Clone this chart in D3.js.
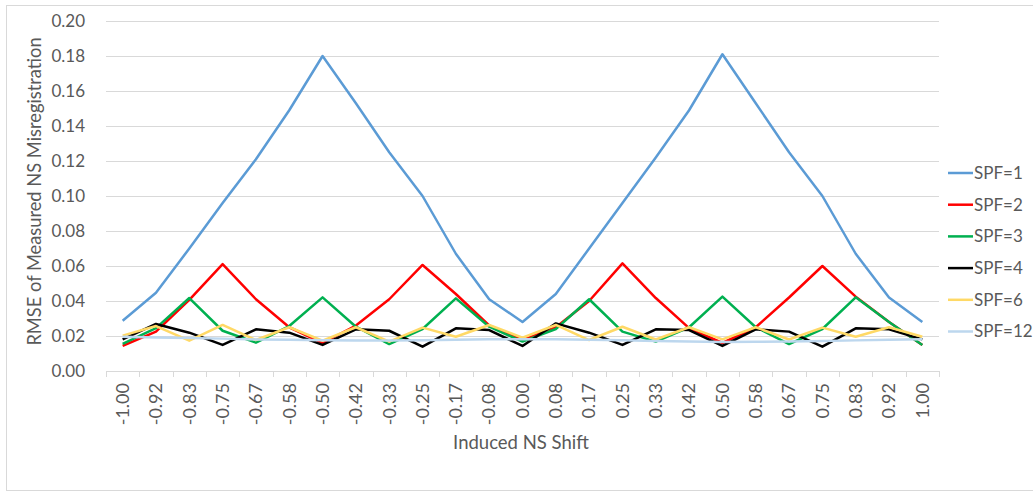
<!DOCTYPE html>
<html>
<head>
<meta charset="utf-8">
<script src="https://cdn.jsdelivr.net/npm/d3@7"></script>
<style>
  html, body { margin: 0; padding: 0; background: #fff; }
  svg { display: block; font-family: Lato, "Open Sans", sans-serif; }
</style>
</head>
<body>
<svg id="chart" width="1033" height="497"></svg>
<script>
// Induced NS shift categories (x axis)
const shifts = ["-1.00","-0.92","-0.83","-0.75","-0.67","-0.58","-0.50","-0.42","-0.33","-0.25","-0.17","-0.08","0.00",
                "0.08","0.17","0.25","0.33","0.42","0.50","0.58","0.67","0.75","0.83","0.92","1.00"];

// RMSE per samples-per-frame setting
const spf1  = [0.0287,0.0447,0.070,0.096,0.121,0.149,0.180,0.153,0.125,0.100,0.067,0.041,0.028,
               0.044,0.070,0.096,0.122,0.149,0.181,0.153,0.125,0.100,0.067,0.042,0.028];
const spf2  = [0.0143,0.0225,0.0406,0.0611,0.041,0.025,0.016,0.026,0.041,0.0606,0.044,0.026,0.0177,
               0.025,0.040,0.0615,0.0417,0.0245,0.016,0.025,0.042,0.060,0.0425,0.028,0.0149];
const spf3  = [0.0155,0.0245,0.0417,0.023,0.0162,0.0257,0.0421,0.0253,0.0154,0.024,0.0415,0.0253,0.0168,
               0.024,0.041,0.0225,0.0168,0.025,0.0425,0.025,0.0154,0.024,0.0421,0.028,0.0149];
const spf4  = [0.0181,0.0269,0.0219,0.0149,0.0238,0.0219,0.0149,0.0238,0.023,0.0139,0.0244,0.0234,0.0143,
               0.0272,0.0219,0.0149,0.0238,0.0234,0.0143,0.0238,0.0225,0.0139,0.0244,0.0238,0.0181];
const spf6  = [0.0202,0.0257,0.0173,0.0263,0.0177,0.025,0.0173,0.025,0.0168,0.0248,0.0196,0.0263,0.019,
               0.0263,0.0177,0.0253,0.018,0.025,0.0181,0.025,0.018,0.0248,0.0196,0.025,0.0196];
const spf12 = [0.0196,0.0192,0.0188,0.0185,0.018,0.0178,0.0176,0.0174,0.0174,0.0176,0.0179,0.0181,0.0182,
               0.0181,0.0179,0.0176,0.0172,0.0168,0.0166,0.0167,0.0169,0.0172,0.0175,0.0178,0.0182];

const seriesNames  = ["SPF=1","SPF=2","SPF=3","SPF=4","SPF=6","SPF=12"];
const seriesValues = [spf1, spf2, spf3, spf4, spf6, spf12];
const seriesColors = ["#5B9BD5","#FF0000","#00B050","#000000","#FFD966","#BDD7EE"];

const yTicks = [0,0.02,0.04,0.06,0.08,0.10,0.12,0.14,0.16,0.18,0.20];

const svg = d3.select("#chart");
const textColor = "#595959";
const gridColor = "#D9D9D9";

// outer chart frame
svg.append("rect")
  .attr("x", 6.5).attr("y", 5.5).attr("width", 1040).attr("height", 485)
  .attr("fill", "none").attr("stroke", gridColor).attr("stroke-width", 1);

const plot = { left: 106, right: 939, top: 21, bottom: 371 };

const x = d3.scaleBand().domain(shifts).range([plot.left, plot.right]).padding(0);
const y = d3.scaleLinear().domain([0, 0.20]).range([plot.bottom, plot.top]);

// horizontal gridlines + y tick labels
const yAxis = d3.axisLeft(y)
  .tickValues(yTicks)
  .tickFormat(d3.format(".2f"))
  .tickSize(-(plot.right - plot.left))
  .tickPadding(21);

const gy = svg.append("g")
  .attr("transform", `translate(${plot.left},0)`)
  .call(yAxis);
gy.select(".domain").remove();
gy.selectAll(".tick line").attr("stroke", gridColor).attr("stroke-width", 1);
gy.selectAll(".tick text")
  .attr("fill", textColor)
  .style("font-size", "17px")
  .attr("font-family", "Lato, 'Open Sans', sans-serif");

// x axis line with tick marks at category boundaries
const gx = svg.append("g").attr("class", "x-axis");
gx.append("line")
  .attr("x1", plot.left).attr("x2", plot.right)
  .attr("y1", y(0) + 0.5).attr("y2", y(0) + 0.5)
  .attr("stroke", gridColor);
const boundaries = shifts.map(s => x(s)).concat([x(shifts[shifts.length - 1]) + x.bandwidth()]);
gx.selectAll("line.tick")
  .data(boundaries)
  .join("line")
  .attr("class", "tick")
  .attr("x1", d => Math.round(d) + 0.5).attr("x2", d => Math.round(d) + 0.5)
  .attr("y1", y(0)).attr("y2", y(0) + 6)
  .attr("stroke", gridColor);

gx.selectAll("text")
  .data(shifts)
  .join("text")
  .attr("transform", d => `translate(${x(d) + x.bandwidth() / 2},${y(0) + 12}) rotate(-90)`)
  .attr("text-anchor", "end")
  .attr("dy", "0.35em")
  .attr("fill", textColor)
  .style("font-size", "18px")
  .text(d => d);

// axis titles
svg.append("text")
  .attr("x", 521)
  .attr("y", 449)
  .attr("text-anchor", "middle")
  .attr("fill", textColor)
  .style("font-size", "18.5px")
  .text("Induced NS Shift");

svg.append("text")
  .attr("transform", `translate(41,${(38 + 345) / 2}) rotate(-90)`)
  .attr("text-anchor", "middle")
  .attr("fill", textColor)
  .style("font-size", "18.3px")
  .text("RMSE of Measured NS Misregistration");

// series lines
const line = d3.line()
  .x((d, i) => x(shifts[i]) + x.bandwidth() / 2)
  .y(d => y(d));

svg.append("g").selectAll("path")
  .data(seriesValues)
  .join("path")
  .attr("d", d => line(d))
  .attr("fill", "none")
  .attr("stroke", (d, i) => seriesColors[i])
  .attr("stroke-width", 2.5)
  .attr("stroke-linejoin", "round");

// legend
const legend = svg.append("g");
const rows = legend.selectAll("g")
  .data(seriesNames)
  .join("g")
  .attr("transform", (d, i) => `translate(948,${173 + i * 31.7})`);
rows.append("line")
  .attr("x1", 0).attr("x2", 25)
  .attr("stroke", (d, i) => seriesColors[i])
  .attr("stroke-width", 2.5);
rows.append("text")
  .attr("x", 26)
  .attr("dy", "0.35em")
  .attr("fill", textColor)
  .style("font-size", "17px")
  .text(d => d);
</script>
</body>
</html>
